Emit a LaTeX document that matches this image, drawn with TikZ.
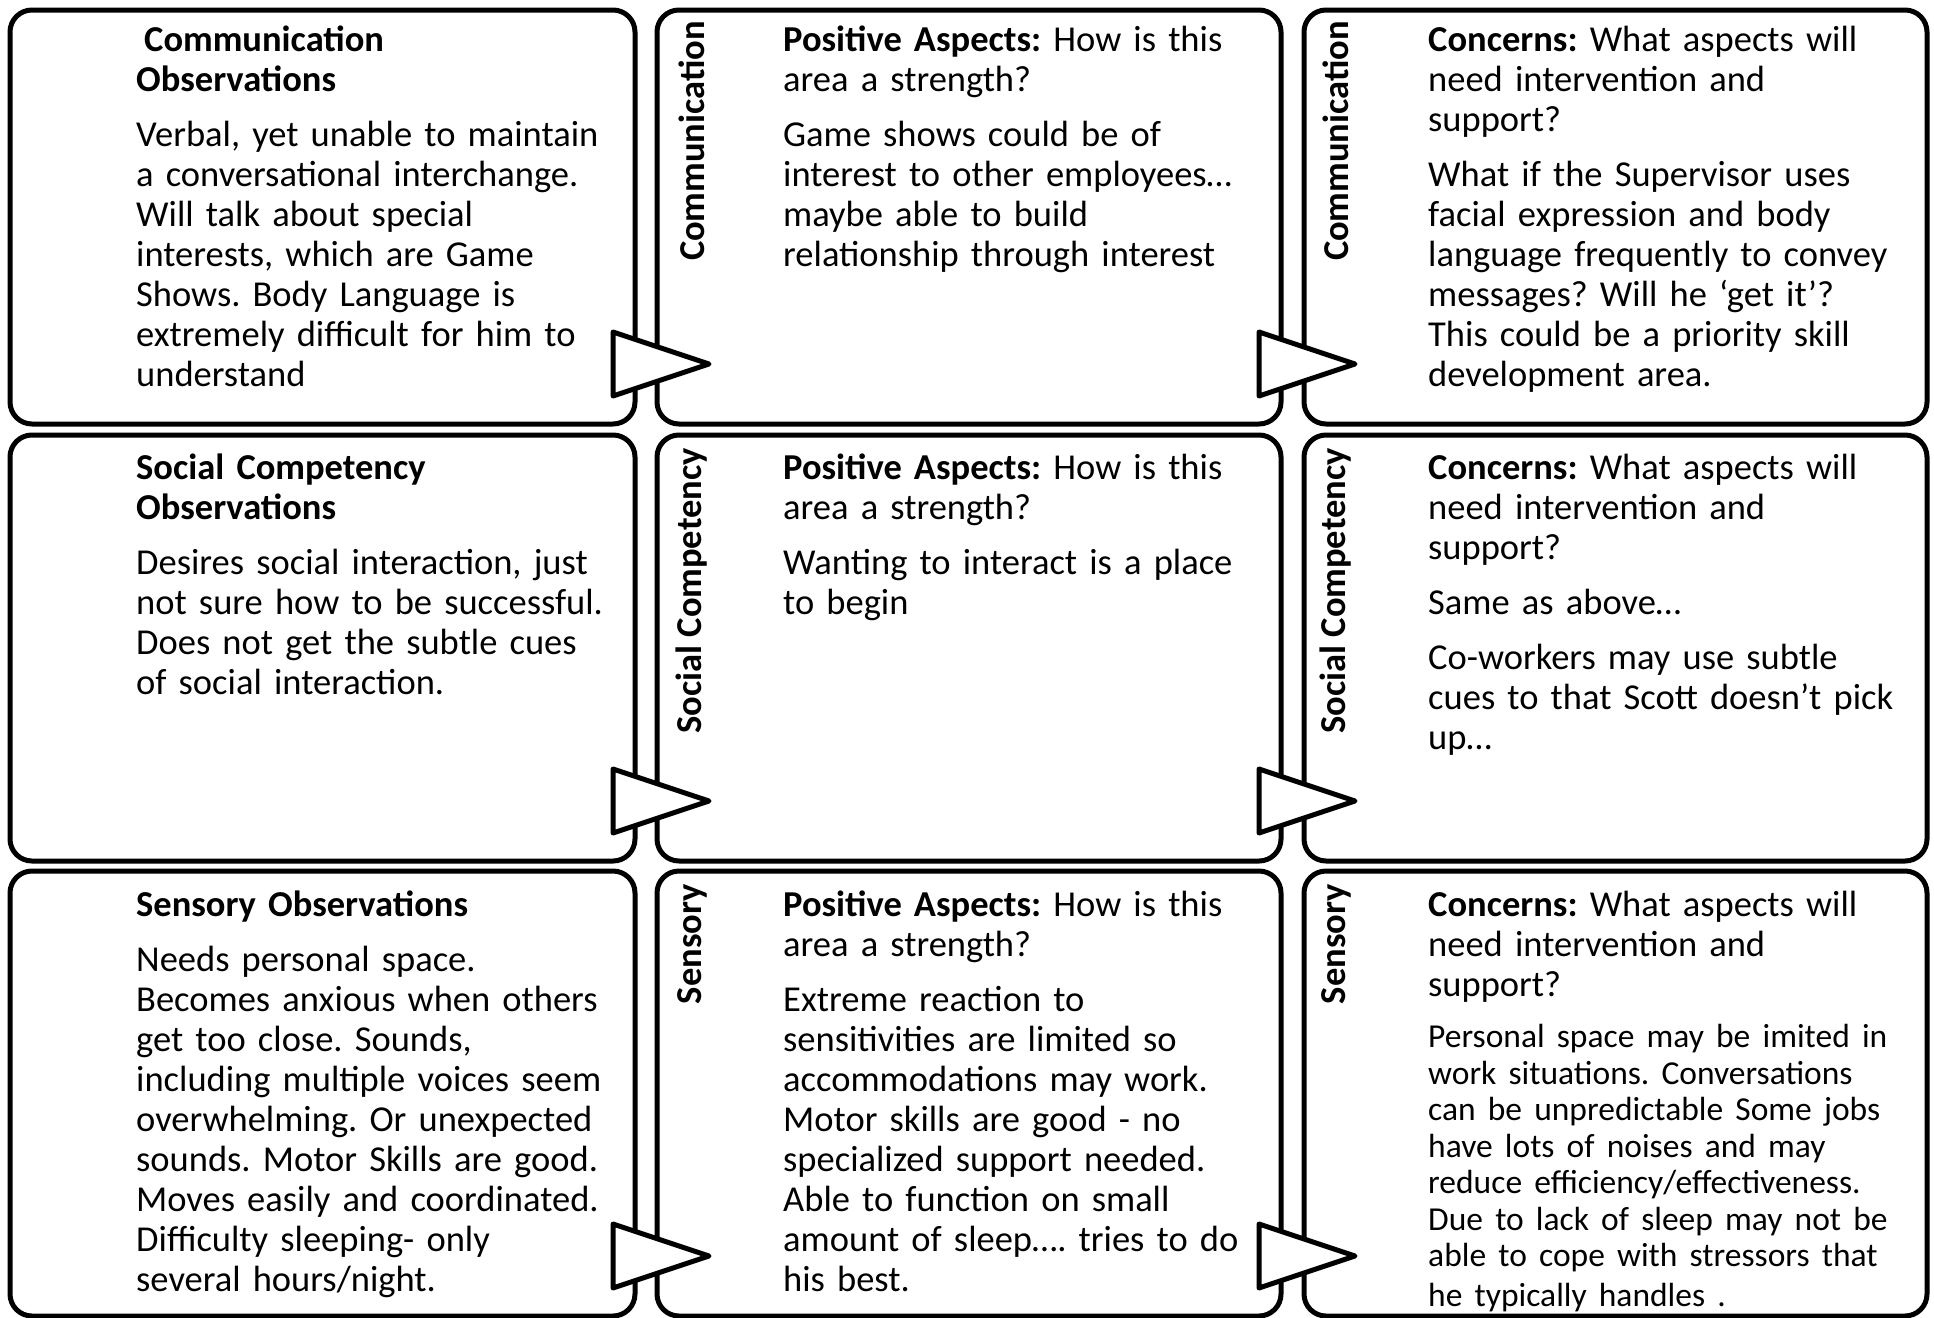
\documentclass[tikz,border=0pt]{standalone}
\usepackage{fontspec}
\setmainfont{Carlito}
\usetikzlibrary{calc}
\setlength{\parindent}{0pt}
\frenchspacing
\begin{document}
\begin{tikzpicture}[x=1pt,y=-1pt,
  card/.style={draw=black, line width=5pt, rounded corners=22pt, fill=white, inner sep=0pt, outer sep=0pt},
  tri/.style={draw=black, fill=white, line width=5pt, line join=round},
  body/.style={anchor=base west, text width=620pt, align=left, inner sep=0pt, font=\fontsize{36.5}{40}\selectfont},
  side/.style={rotate=90, anchor=east, inner sep=0pt, font=\fontsize{36.5}{40}\selectfont\bfseries}]
\useasboundingbox (0,0) rectangle (1934,1317);

% boxes
\node[card, minimum width=625pt, minimum height=414pt] (c11) at (322.5,217) {};
\node[card, minimum width=624pt, minimum height=414pt] (c12) at (969,217) {};
\node[card, minimum width=623pt, minimum height=414pt] (c13) at (1615.5,217) {};
\node[card, minimum width=625pt, minimum height=426pt] (c21) at (322.5,648) {};
\node[card, minimum width=624pt, minimum height=426pt] (c22) at (969,648) {};
\node[card, minimum width=623pt, minimum height=426pt] (c23) at (1615.5,648) {};
\node[card, minimum width=625pt, minimum height=445pt] (c31) at (322.5,1093.5) {};
\node[card, minimum width=624pt, minimum height=445pt] (c32) at (969,1093.5) {};
\node[card, minimum width=623pt, minimum height=445pt] (c33) at (1615.5,1093.5) {};

% connector triangles
\foreach \r in {1,2,3}{
  \foreach \c in {1,2}{
    \coordinate (ta\r\c) at ($(c\r\c.south east)+(-22,-92)$);
    \coordinate (tb\r\c) at ($(c\r\c.south east)+(-22,-28)$);
    \coordinate (tc\r\c) at ($(c\r\c.south east)+(74,-60)$);
    \draw[tri] (ta\r\c) -- (tc\r\c) -- (tb\r\c) -- cycle;
  }
}

% side labels
\node[side] (s12) at (692,21) {Communication};
\node[side] (s13) at (1336,21) {Communication};
\node[side] (s22) at (692,448) {Social Competency};
\node[side] (s23) at (1336,448) {Social Competency};
\node[side] (s32) at (692,884) {Sensory};
\node[side] (s33) at (1336,884) {Sensory};

% row 1
\node[body] (o1) at (136,51) {\textbf{\hspace*{8pt}Communication\\Observations}\par\vspace{15pt}Verbal, yet unable to maintain\\a conversational interchange.\\Will talk about special\\interests, which are Game\\Shows. Body Language is\\extremely difficult for him to\\understand};
\node[body] (p1) at (783,51) {\textbf{Positive Aspects:} How is this\\area a strength?\par\vspace{15pt}Game shows could be of\\interest to other employees…\\maybe able to build\\relationship through interest};
\node[body] (q1) at (1428,51) {\textbf{Concerns:} What aspects will\\need intervention and\\support?\par\vspace{15pt}What if the Supervisor uses\\facial expression and body\\language frequently to convey\\messages? Will he ‘get it’?\\This could be a priority skill\\development area.};

% row 2
\node[body] (o2) at (136,479) {\textbf{Social Competency\\Observations}\par\vspace{15pt}Desires social interaction, just\\not sure how to be successful.\\Does not get the subtle cues\\of social interaction.};
\node[body] (p2) at (783,479) {\textbf{Positive Aspects:} How is this\\area a strength?\par\vspace{15pt}Wanting to interact is a place\\to begin};
\node[body] (q2) at (1428,479) {\textbf{Concerns:} What aspects will\\need intervention and\\support?\par\vspace{15pt}Same as above…\par\vspace{15pt}Co-workers may use subtle\\cues to that Scott doesn’t pick\\up…};

% row 3
\node[body] (o3) at (136,916) {\textbf{Sensory Observations}\par\vspace{15pt}Needs personal space.\\Becomes anxious when others\\get too close. Sounds,\\including multiple voices seem\\overwhelming. Or unexpected\\sounds. Motor Skills are good.\\Moves easily and coordinated.\\Difficulty sleeping- only\\several hours/night.};
\node[body] (p3) at (783,916) {\textbf{Positive Aspects:} How is this\\area a strength?\par\vspace{15pt}Extreme reaction to\\sensitivities are limited so\\accommodations may work.\\Motor skills are good - no\\specialized support needed.\\Able to function on small\\amount of sleep…. tries to do\\his best.};
\node[body] (q3) at (1428,916) {\textbf{Concerns:} What aspects will\\need intervention and\\support?\par\vspace{15pt}\fontsize{33.5}{36.5}\selectfont Personal space may be imited in\\work situations. Conversations\\can be unpredictable Some jobs\\have lots of noises and may\\reduce efficiency/effectiveness.\\Due to lack of sleep may not be\\able to cope with stressors that\\he typically handles .};
\end{tikzpicture}
\end{document}
